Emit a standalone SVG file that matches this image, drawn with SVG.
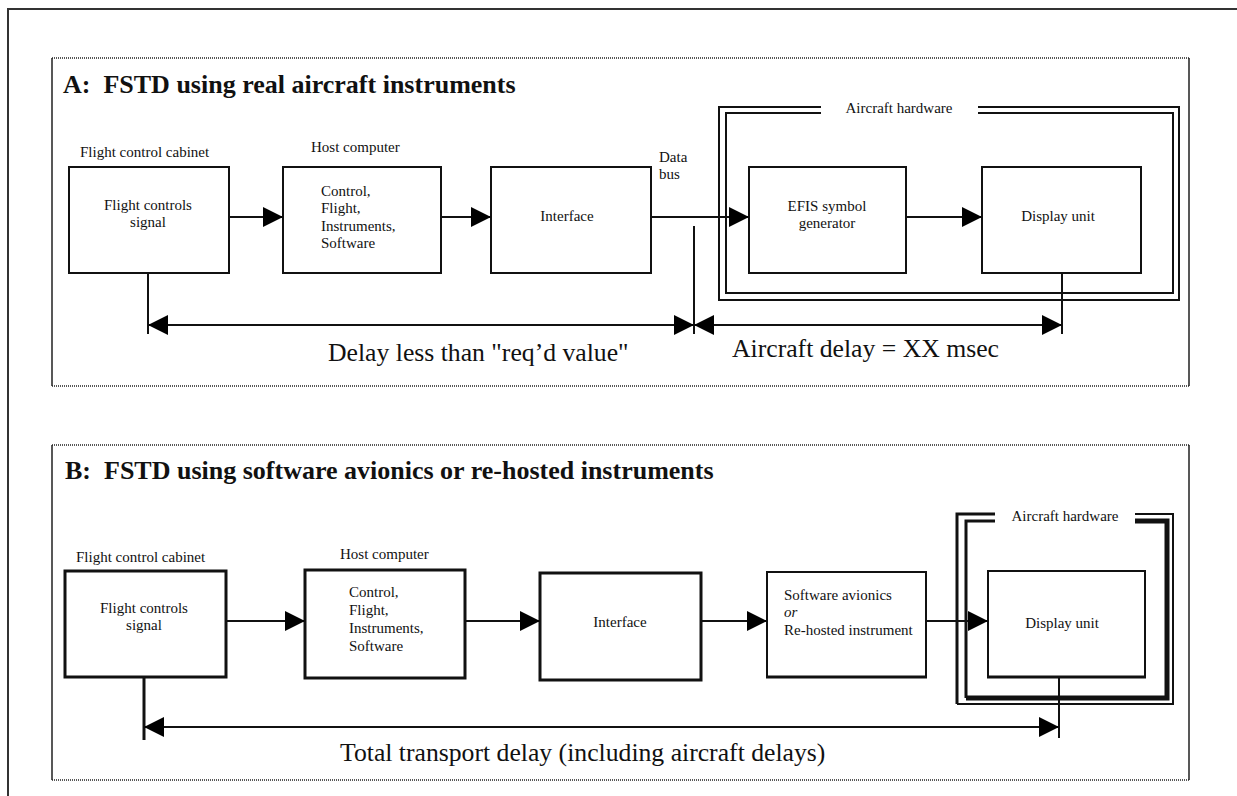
<svg xmlns="http://www.w3.org/2000/svg" width="1237" height="796" viewBox="0 0 1237 796">
<style>
.bg{fill:#fff}
.frame{fill:none;stroke:#333;stroke-width:2}
.dot{fill:none;stroke:#222;stroke-width:1.5;stroke-dasharray:1 1}
.side{fill:none;stroke:#222;stroke-width:1.5}
.box{fill:#fff;stroke:#111;stroke-width:2}
.boxb{fill:#fff;stroke:#111;stroke-width:3}
.hw{fill:none;stroke:#111;stroke-width:2}
.ln{fill:none;stroke:#111;stroke-width:2}
.t{font-family:"Liberation Serif","Times New Roman",serif;font-size:15px;fill:#111}
.tc{text-anchor:middle}
.title{font-family:"Liberation Serif","Times New Roman",serif;font-size:26px;font-weight:bold;fill:#111}
.big{font-family:"Liberation Serif","Times New Roman",serif;font-size:25.7px;fill:#111}
</style>
<defs>
<marker id="arr" markerUnits="userSpaceOnUse" markerWidth="20" markerHeight="20" viewBox="0 0 20 20" refX="20" refY="10" orient="auto-start-reverse">
<path d="M0,0 L20,10 L0,20 z" fill="#000"/>
</marker>
</defs>
<rect class="bg" x="0" y="0" width="1237" height="796"/>
<path class="frame" d="M8,796 V9 H1237"/>

<g id="sectionA">
<path class="dot" d="M52,58 H1189 M52,386 H1189"/>
<path class="side" d="M52,58 V386 M1189,58 V386"/>
<text class="title" x="63" y="93" xml:space="preserve">A:  FSTD using real aircraft instruments</text>
</g>

<g id="hwA">
<path class="hw" d="M821,107 H719 V300 H1179 V107 H978 M821,113 H726 V293 H1173 V113 H978"/>
<text class="t" x="899" y="113" text-anchor="middle">Aircraft hardware</text>
</g>

<g id="fcA">
<text class="t" x="80" y="157">Flight control cabinet</text>
<rect class="box" x="69" y="167" width="160" height="106"/>
<text class="t tc" x="148" y="210">Flight controls</text>
<text class="t tc" x="148" y="227">signal</text>
</g>

<g id="hostA">
<text class="t" x="311" y="152">Host computer</text>
<rect class="box" x="283" y="167" width="158" height="106"/>
<text class="t" x="321" y="196">Control,</text>
<text class="t" x="321" y="213">Flight,</text>
<text class="t" x="321" y="231">Instruments,</text>
<text class="t" x="321" y="248">Software</text>
</g>

<g id="ifA">
<rect class="box" x="491" y="167" width="160" height="106"/>
<text class="t tc" x="567" y="221">Interface</text>
</g>

<g id="databus">
<text class="t" x="659" y="162">Data</text>
<text class="t" x="659" y="179">bus</text>
</g>

<g id="efisA">
<rect class="box" x="749" y="167" width="157" height="106"/>
<text class="t tc" x="827" y="211">EFIS symbol</text>
<text class="t tc" x="827" y="228">generator</text>
</g>

<g id="duA">
<rect class="box" x="982" y="167" width="159" height="106"/>
<text class="t tc" x="1058" y="221">Display unit</text>
</g>

<g id="labelsA">
<text class="big" x="328" y="361">Delay less than "req’d value"</text>
<text class="big" x="732" y="357">Aircraft delay = XX msec</text>
</g>

<g id="sectionB">
<path class="dot" d="M52,445 H1189 M52,780 H1189"/>
<path class="side" d="M52,445 V780 M1189,445 V780"/>
<text class="title" x="65" y="479" xml:space="preserve">B:  FSTD using software avionics or re-hosted instruments</text>
</g>

<g id="hwB">
<path fill="none" stroke="#111" stroke-width="3" d="M995,514 H957 V704"/>
<path fill="none" stroke="#111" stroke-width="2" d="M957,704 H1173 V514 H1135"/>
<path fill="none" stroke="#111" stroke-width="3" d="M995,521 H966 V698"/>
<path fill="none" stroke="#111" stroke-width="5" d="M966,698 H1167 V521 H1135"/>
<text class="t" x="1065" y="521" text-anchor="middle">Aircraft hardware</text>
</g>

<g id="fcB">
<text class="t" x="76" y="562">Flight control cabinet</text>
<rect class="boxb" x="65" y="571" width="161" height="106"/>
<text class="t tc" x="144" y="613">Flight controls</text>
<text class="t tc" x="144" y="630">signal</text>
</g>

<g id="hostB">
<text class="t" x="340" y="559">Host computer</text>
<rect class="boxb" x="305" y="570" width="160" height="108"/>
<text class="t" x="349" y="597">Control,</text>
<text class="t" x="349" y="615">Flight,</text>
<text class="t" x="349" y="633">Instruments,</text>
<text class="t" x="349" y="651">Software</text>
</g>

<g id="ifB">
<rect class="boxb" x="540" y="573" width="161" height="107"/>
<text class="t tc" x="620" y="627">Interface</text>
</g>

<g id="swB">
<rect class="box" x="767" y="572" width="159" height="105"/>
<path fill="none" stroke="#111" stroke-width="3" d="M766,677 H927"/>
<text class="t" x="784" y="600">Software avionics</text>
<text class="t" x="784" y="617" font-style="italic">or</text>
<text class="t" x="784" y="635">Re-hosted instrument</text>
</g>

<g id="duB">
<rect class="box" x="988" y="571" width="157" height="106"/>
<path fill="none" stroke="#111" stroke-width="3" d="M987,677 H1146"/>
<text class="t tc" x="1062" y="628">Display unit</text>
</g>

<g id="labelsB">
<text class="big" x="340" y="761">Total transport delay (including aircraft delays)</text>
</g>

<g id="connectors">
<path class="ln" d="M229,217 H283" marker-end="url(#arr)"/>
<path class="ln" d="M441,217 H491" marker-end="url(#arr)"/>
<path class="ln" d="M651,217 H749" marker-end="url(#arr)"/>
<path class="ln" d="M906,217 H982" marker-end="url(#arr)"/>
<path class="ln" d="M148,273 V334"/>
<path class="ln" d="M694,226 V334"/>
<path class="ln" d="M1062,273 V334"/>
<path class="ln" d="M148,325 H694" marker-start="url(#arr)" marker-end="url(#arr)"/>
<path class="ln" d="M694,325 H1062" marker-start="url(#arr)" marker-end="url(#arr)"/>
<path class="ln" d="M226,621 H305" marker-end="url(#arr)"/>
<path class="ln" d="M465,621 H540" marker-end="url(#arr)"/>
<path class="ln" d="M701,621 H767" marker-end="url(#arr)"/>
<path class="ln" d="M926,621 H988" marker-end="url(#arr)"/>
<path fill="none" stroke="#111" stroke-width="3" d="M144,677 V740"/>
<path class="ln" d="M1059,677 V738"/>
<path class="ln" d="M144,727 H1059" marker-start="url(#arr)" marker-end="url(#arr)"/>
</g>
</svg>
